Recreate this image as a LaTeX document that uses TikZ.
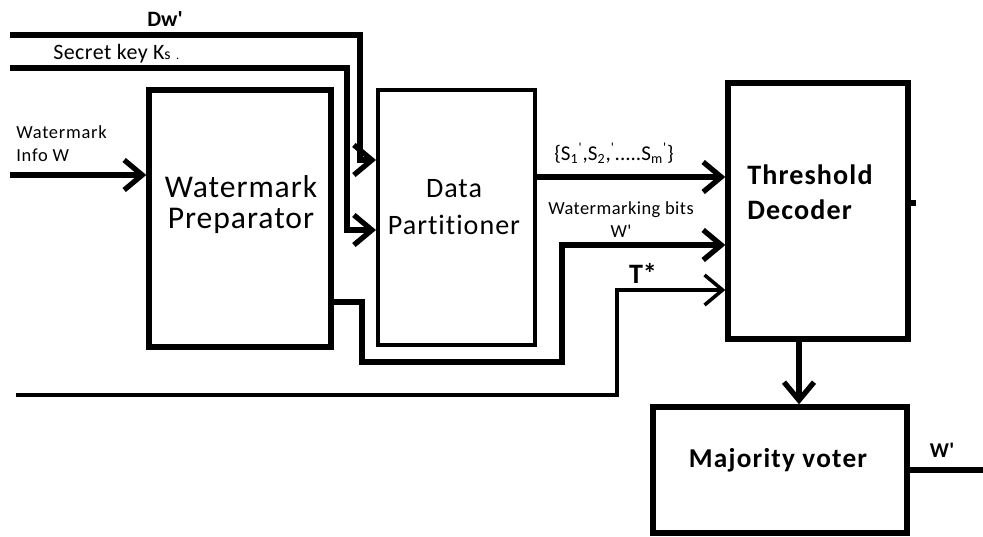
\documentclass[tikz,border=0pt]{standalone}
\usepackage{fontspec}
\setmainfont{Carlito}[Ligatures={TeXOff,NoCommon}]
\usetikzlibrary{arrows.meta,positioning,calc}
\newcommand{\fsz}[2]{\fontsize{#1}{#2}\selectfont}

\begin{document}
\begin{tikzpicture}[
  x=0.02cm, y=-0.02cm,
  blockbox/.style={draw, line width=3.1pt, inner sep=0pt},
  flow/.style={line width=3pt, -{Straight Barb[length=3.6mm, width=6mm]}},
  flowthin/.style={flow, line width=2pt},
  plain/.style={line width=3pt},
  lab/.style={inner sep=0pt},
]
  \useasboundingbox (0,0) rectangle (983,537);

  % blocks (empty), their names set on top
  \node[blockbox, minimum width=3.64cm, minimum height=5.14cm] (prep) at (240,218.5) {};
  \node[blockbox, line width=2.3pt, minimum width=3.14cm, minimum height=5.1cm] (part) at (456.5,217.5) {};
  \node[blockbox, minimum width=3.6cm, minimum height=5.12cm] (thresh) at (818,211) {};
  \node[blockbox, minimum width=5.08cm, minimum height=2.52cm] (voter) at (780,470) {};

  \node[lab, align=center, font=\fsz{18}{17.6}\addfontfeatures{LetterSpace=3}] (preplab) at (241,205) {Watermark\\Preparator};
  \node[lab, align=center, font=\fsz{16}{21}\addfontfeatures{LetterSpace=3.5}] (partlab) at (454,207) {Data\\Partitioner};
  \node[lab, align=left, anchor=west, font=\fsz{16}{19.8}\bfseries\addfontfeatures{LetterSpace=4}] (threshlab) at (747,192) {Threshold\\Decoder};
  \node[lab, anchor=base, font=\fsz{15.5}{16}\bfseries\addfontfeatures{LetterSpace=4.5}] (voterlab) at (778,467) {Majority voter};

  % free ends
  \coordinate (dwin) at (10,35);
  \coordinate (ksin) at (10,68);
  \coordinate (winfo) at (10,175);
  \coordinate (tin) at (16,395);
  \coordinate (wout) at (983,470);

  \draw[flow] (dwin) -| (360,160) -- (part.west |- 0,160);
  \draw[flow] (ksin) -| (347,230) -- (part.west |- 0,230);
  \draw[flow] (winfo) -- (prep.west |- winfo);
  \draw[flow] (prep.east |- 0,302) -| (362,362) -| (562,245) -- (thresh.west |- 0,245);
  \draw[flow] (part.east |- 0,177) -- (thresh.west |- 0,177);
  \draw[flowthin] (tin) -| (617,290) -- (thresh.west |- 0,290);
  \draw[flow] (thresh.south -| 799,0) -- (voter.north -| 799,0);
  \draw[plain] (voter.east) -- (wout);
  \draw[plain] (thresh.east |- 0,203) -- ++(5,0);

  \node[lab, anchor=base, font=\fsz{12.5}{14}\bfseries] (dwlab) at (165,27) {Dw'};
  \node[lab, anchor=base west, font=\fsz{12.5}{14}\addfontfeatures{LetterSpace=2}] (kslab) at (53,60)
    {Secret key K{\fsz{9}{10}s} {\fsz{7}{8}.}};
  \node[lab, anchor=west, align=left, font=\fsz{10.5}{13}\addfontfeatures{LetterSpace=4}] (winfolab) at (16,144) {Watermark\\Info W};
  \node[lab, anchor=base, font=\fsz{12}{13}] (slab) at (614,160)
    {\{S\textsubscript{1}\textsuperscript{'},S\textsubscript{2},\textsuperscript{'}.....S\textsubscript{m}\textsuperscript{'}\}};
  \node[lab, align=center, font=\fsz{10.5}{13}\addfontfeatures{LetterSpace=2.5}] (bitslab) at (621,220) {Watermarking bits\\W'};
  \node[lab, anchor=base, font=\fsz{16}{17}\bfseries] (tlab) at (643,283) {T*};
  \node[lab, anchor=base, font=\fsz{12}{13}\bfseries] (woutlab) at (942,457) {W'};
\end{tikzpicture}
\end{document}
